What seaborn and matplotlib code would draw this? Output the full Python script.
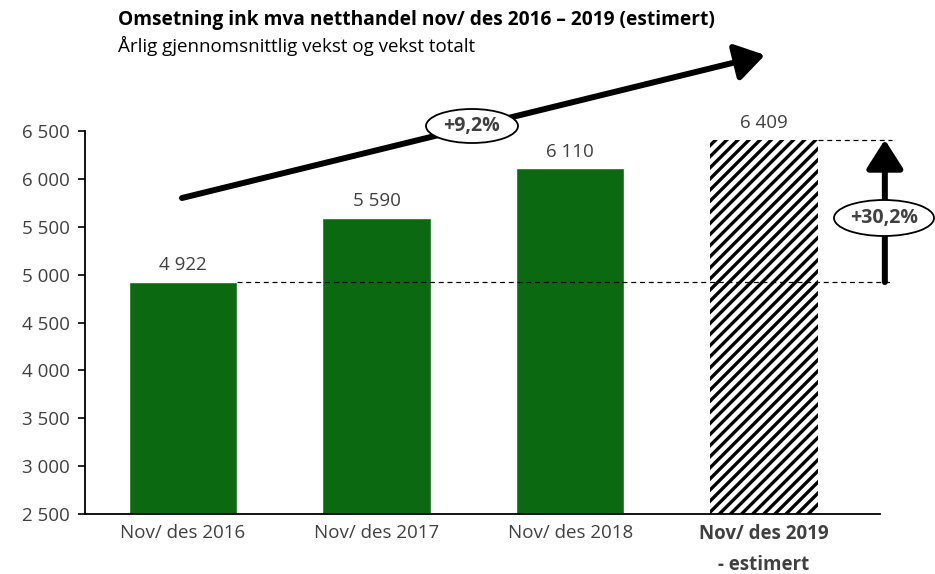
import matplotlib
matplotlib.use("Agg")
import matplotlib.pyplot as plt
import seaborn as sns
import pandas as pd
from matplotlib.patches import Ellipse, FancyArrowPatch

categories = ["Nov/ des 2016", "Nov/ des 2017", "Nov/ des 2018", "Nov/ des 2019\n- estimert"]
values = [4922, 5590, 6110, 6409]
value_labels = ["4 922", "5 590", "6 110", "6 409"]
yticks = [2500, 3000, 3500, 4000, 4500, 5000, 5500, 6000, 6500]
ytick_labels = ["2 500", "3 000", "3 500", "4 000", "4 500", "5 000", "5 500", "6 000", "6 500"]
title = "Omsetning ink mva netthandel nov/ des 2016 – 2019 (estimert)"
subtitle = "Årlig gjennomsnittlig vekst og vekst totalt"
cagr_label = "+9,2%"
total_label = "+30,2%"

sns.set_theme(style="white")
plt.rcParams['font.family'] = ['Open Sans', 'DejaVu Sans']
plt.rcParams['hatch.linewidth'] = 2.4
txt = "#404040"
green = "#0b6912"

df = pd.DataFrame({"cat": categories, "val": values})
fig = plt.figure(figsize=(9.35, 5.74), dpi=100)
ax = fig.add_axes([85/935, 1-514/574, (880-85)/935, (514-131)/574])
sns.barplot(data=df, x="cat", y="val", hue="cat",
            palette=[green, green, green, "white"], legend=False,
            width=0.56, ax=ax, saturation=1)
last = ax.patches[3]
last.set_hatch("///")
last.set_edgecolor("black")
last.set_linewidth(0)

ax.set_ylim(2500, 6500)
ax.set_xlim(-0.505, 3.6)
ax.set_yticks(yticks)
ax.set_yticklabels(ytick_labels, color=txt, fontsize=13.5)
ax.set_xlabel("")
ax.set_ylabel("")
ax.tick_params(axis="y", length=5, width=1.2, color="black", left=True, pad=6)
ax.tick_params(axis="x", length=0, pad=7)
for lbl in ax.get_xticklabels():
    lbl.set_color(txt)
    lbl.set_fontsize(13.5)
    lbl.set_linespacing(1.75)
lbls = ax.get_xticklabels()
lbls[3].set_fontweight("bold")
sns.despine(ax=ax)
ax.spines["left"].set_color("black")
ax.spines["bottom"].set_color("black")
ax.spines["left"].set_linewidth(1.3)
ax.spines["bottom"].set_linewidth(1.3)

for i, (v, s) in enumerate(zip(values, value_labels)):
    ax.text(i, v + 80, s, ha="center", va="bottom", fontsize=13.5, color=txt)

# dashed reference lines
xr = 3.66
ax.plot([0.28, xr], [values[0], values[0]], ls=(0, (4, 3)), color="black", lw=0.9, clip_on=False)
ax.plot([3.28, xr], [values[3], values[3]], ls=(0, (4, 3)), color="black", lw=0.9, clip_on=False)

# vertical arrow
xa = 3.625
arr = FancyArrowPatch((xa, values[0]), (xa, values[3]), arrowstyle="-|>,head_length=11,head_width=7",
                      mutation_scale=1.6, color="black", lw=4.3, clip_on=False, shrinkA=0, shrinkB=0)
ax.add_patch(arr)

# ellipse +30,2%
e = Ellipse((884/935, 1-218/574), 100/935, 36/574, transform=fig.transFigure,
            facecolor="white", edgecolor="black", lw=1.3, zorder=5)
fig.patches.append(e)
fig.text(884/935, 1-218/574, total_label, ha="center", va="center", fontsize=14,
         fontweight="bold", color=txt, zorder=6)

# diagonal arrow (figure coords)
arr2 = FancyArrowPatch((182/935, 1-198/574), (765/935, 1-55/574), transform=fig.transFigure,
                       arrowstyle="-|>,head_length=11,head_width=7", mutation_scale=1.6,
                       color="black", lw=4.3, shrinkA=0, shrinkB=0, zorder=4)
fig.patches.append(arr2)
e2 = Ellipse((472/935, 1-126/574), 92/935, 34/574, transform=fig.transFigure,
             facecolor="white", edgecolor="black", lw=1.3, zorder=5)
fig.patches.append(e2)
fig.text(472/935, 1-126/574, cagr_label, ha="center", va="center", fontsize=14,
         fontweight="bold", color=txt, zorder=6)

fig.text(118/935, 1-20/574, title, ha="left", va="center", fontsize=13.8, fontweight="bold", color="black")
fig.text(118/935, 1-46/574, subtitle, ha="left", va="center", fontsize=13.5, color="black")

fig.savefig("out.png", dpi=100)
